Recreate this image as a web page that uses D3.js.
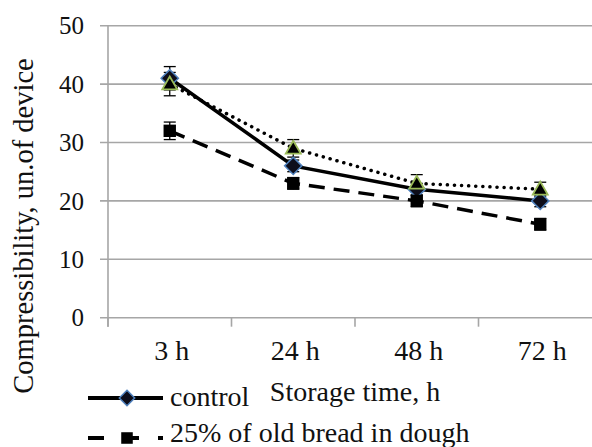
<!DOCTYPE html>
<html><head><meta charset="utf-8">
<script src="https://cdn.jsdelivr.net/npm/d3@7"></script>
<style>
html,body{margin:0;padding:0;background:#fff;overflow:hidden}
svg{display:block}
</style></head><body>
<svg id="chart" width="592" height="447"></svg>
<script>
const categories = ["3 h", "24 h", "48 h", "72 h"];
const controlValues = [41, 26, 22, 20];
const controlErrors = [2, 1, 1, 1];
const oldBreadValues = [32, 23, 20, 16];
const oldBreadErrors = [1.5, 1, 1, 1];
const thirdValues = [40, 29, 23, 22];
const thirdErrors = [2, 1.5, 1.5, 1.2];
const yTicks = [0, 10, 20, 30, 40, 50];
const seriesNames = ["control", "25% of old bread in dough"];
const xTitle = "Storage time, h";
const yTitle = "Compressibility, un.of device";

(function () {
const svg = d3.select("#chart");
const FONT = "'Liberation Serif', 'Times New Roman', serif";

const pLeft = 108, pRight = 602, pTop = 25.7, pBottom = 317.7;
const x = d3.scaleBand().domain(categories).range([pLeft, pRight]);
const y = d3.scaleLinear().domain([0, 50]).range([pBottom, pTop]);
const cx = c => x(c) + x.bandwidth() / 2;

svg.append("g").selectAll("line").data(yTicks).join("line")
  .attr("x1", pLeft - 8).attr("x2", pRight)
  .attr("y1", d => y(d)).attr("y2", d => y(d))
  .attr("stroke", "#a6a6a6").attr("stroke-width", 1.6);

svg.append("line").attr("x1", pLeft).attr("x2", pLeft).attr("y1", pTop).attr("y2", pBottom + 9)
  .attr("stroke", "#a6a6a6").attr("stroke-width", 1.6);
const bounds = categories.map(c => x(c)).concat([pRight]);
svg.append("g").selectAll("line").data(bounds).join("line")
  .attr("x1", d => d).attr("x2", d => d).attr("y1", pBottom).attr("y2", pBottom + 9)
  .attr("stroke", "#a6a6a6").attr("stroke-width", 1.6);

function txt(sel) { return sel.attr("font-family", FONT).attr("fill", "#111"); }

txt(svg.append("g").selectAll("text").data(yTicks).join("text"))
  .attr("x", 84).attr("y", d => y(d)).attr("dy", "0.35em")
  .attr("text-anchor", "end").attr("font-size", 25).text(d => d);

txt(svg.append("g").selectAll("text").data(categories).join("text"))
  .attr("x", d => cx(d) + 2).attr("y", 360)
  .attr("text-anchor", "middle").attr("font-size", 28).text(d => d);

txt(svg.append("text")).attr("x", (pLeft + pRight) / 2).attr("y", 401)
  .attr("text-anchor", "middle").attr("font-size", 28).text(xTitle);
txt(svg.append("text")).attr("transform", "translate(33,226) rotate(-90)")
  .attr("text-anchor", "middle").attr("font-size", 28.5).text(yTitle);

const line = d3.line().x((d, i) => cx(categories[i])).y(d => y(d));
function drawSeries(vals, dash, cap) {
  svg.append("path").datum(vals).attr("d", line).attr("fill", "none")
    .attr("stroke", "#000").attr("stroke-width", 3.5)
    .attr("stroke-dasharray", dash).attr("stroke-linecap", cap);
}
function drawErrors(vals, errs) {
  const g = svg.append("g").attr("stroke", "#000").attr("stroke-width", 1.3);
  vals.forEach((v, i) => {
    const X = cx(categories[i]);
    g.append("line").attr("x1", X).attr("x2", X).attr("y1", y(v - errs[i])).attr("y2", y(v + errs[i]));
    [v - errs[i], v + errs[i]].forEach(e => g.append("line")
      .attr("x1", X - 6).attr("x2", X + 6).attr("y1", y(e)).attr("y2", y(e)));
  });
}
drawSeries(controlValues, null, "butt");
drawSeries(oldBreadValues, "16,9", "butt");
drawSeries(thirdValues, "0.1,7", "round");
drawErrors(controlValues, controlErrors);
drawErrors(oldBreadValues, oldBreadErrors);
drawErrors(thirdValues, thirdErrors);

const diamond = d3.symbol().type(d3.symbolDiamond2).size(190);
const square = d3.symbol().type(d3.symbolSquare2).size(196);
const triangle = d3.symbol().type(d3.symbolTriangle2).size(160);

svg.append("g").selectAll("path").data(controlValues).join("path")
  .attr("d", diamond).attr("transform", (d, i) => `translate(${cx(categories[i])},${y(d)})`)
  .attr("fill", "#0d0d1a").attr("stroke", "#4f81bd").attr("stroke-width", 1.5);
svg.append("g").selectAll("path").data(oldBreadValues).join("path")
  .attr("d", square).attr("transform", (d, i) => `translate(${cx(categories[i])},${y(d)})`)
  .attr("fill", "#000");
svg.append("g").selectAll("path").data(thirdValues).join("path")
  .attr("d", triangle).attr("transform", (d, i) => `translate(${cx(categories[i])},${y(d) + 1})`)
  .attr("fill", "#000").attr("stroke", "#9bbb59").attr("stroke-width", 1.8);

const lg = svg.append("g");
lg.append("line").attr("x1", 88).attr("x2", 163).attr("y1", 398).attr("y2", 398)
  .attr("stroke", "#000").attr("stroke-width", 4);
lg.append("path").attr("d", d3.symbol().type(d3.symbolDiamond2).size(150)).attr("transform", "translate(127,398)")
  .attr("fill", "#0d0d1a").attr("stroke", "#4f81bd").attr("stroke-width", 1.5);
txt(lg.append("text")).attr("x", 170).attr("y", 406).attr("font-size", 28).text(seriesNames[0]);
lg.append("line").attr("x1", 88).attr("x2", 163).attr("y1", 438).attr("y2", 438)
  .attr("stroke", "#000").attr("stroke-width", 4).attr("stroke-dasharray", "16,19");
lg.append("path").attr("d", d3.symbol().type(d3.symbolSquare2).size(170)).attr("transform", "translate(127,438)").attr("fill", "#000");
txt(lg.append("text")).attr("x", 170).attr("y", 442).attr("font-size", 28).text(seriesNames[1]);
})();
</script></body></html>
